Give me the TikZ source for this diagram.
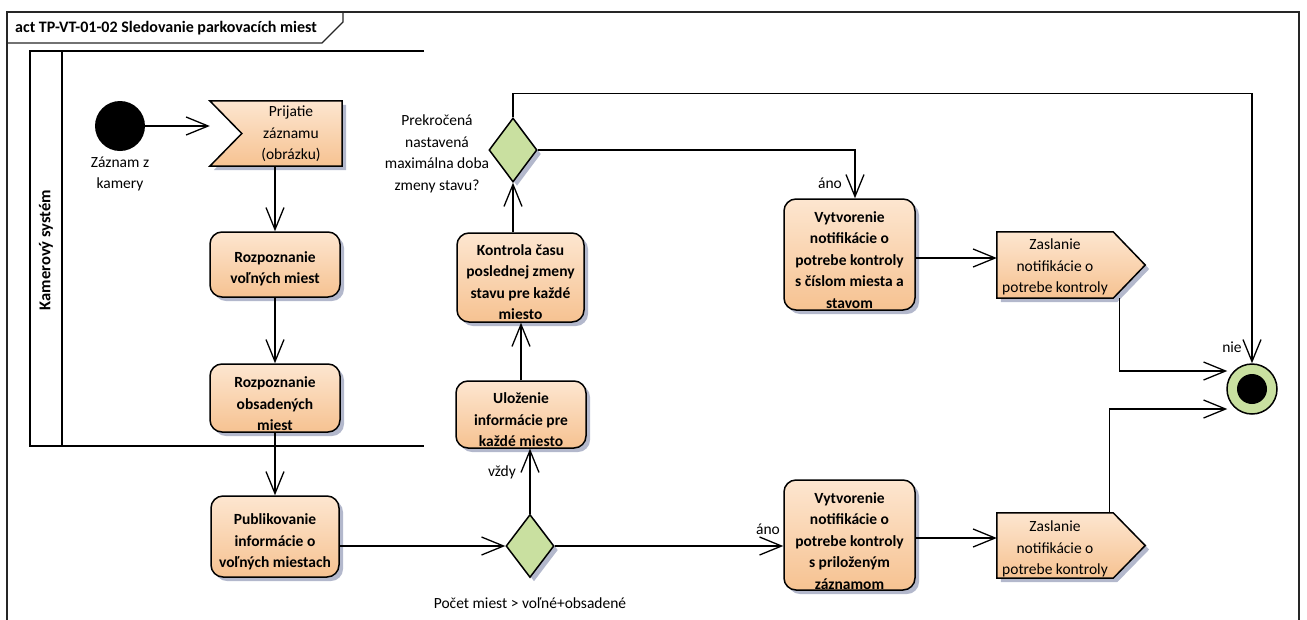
\documentclass[tikz,border=0pt]{standalone}
\usepackage{fontspec}
\setmainfont{Carlito}
\usetikzlibrary{arrows.meta,shapes.geometric,shadows,calc}

\definecolor{actTop}{HTML}{FDE6D0}
\definecolor{actBot}{HTML}{F6C291}
\definecolor{decFill}{HTML}{C9E0A0}
\definecolor{shadowc}{HTML}{B3B8CC}

\tikzset{
  shadeact/.style={top color=actTop, bottom color=actBot, draw=black, line width=1.5pt,
    drop shadow={shadow xshift=4pt, shadow yshift=-4pt, fill=shadowc, opacity=1}},
  action/.style={shape=rectangle, rounded corners=12pt, shadeact, inner sep=0pt},
  holder/.style={shape=rectangle, draw=none, inner sep=0pt},
  boxtext/.style={align=center, inner sep=0pt, font=\bfseries\fontsize{15.5}{21.5}\selectfont},
  plaintext/.style={align=center, inner sep=0pt, font=\fontsize{15.5}{21.5}\selectfont},
  decision/.style={diamond, inner sep=0pt, fill=decFill, draw=black, line width=1.5pt,
    drop shadow={shadow xshift=4pt, shadow yshift=-4pt, fill=shadowc, opacity=1}},
  flow/.style={line width=1.3pt, -{Straight Barb[length=22pt,width=18pt,line width=1.3pt]}},
  frameline/.style={line width=1.2pt, draw=black!85},
  laneline/.style={line width=1.8pt, draw=black},
}

\begin{document}
\begin{tikzpicture}[x=1pt,y=-1pt]
\useasboundingbox (0,0) rectangle (1307,619);

% diagram frame and its name tab
\draw[frameline] (7,625) -- (7,12) -- (1299,12) -- (1299,625);
\draw[frameline] (7,43) -- (322,43) -- (343,22) -- (343,12);
\node[anchor=west, inner sep=0pt, font=\bfseries\fontsize{16}{18}\selectfont] (title) at (15,28)
  {act TP-VT-01-02 Sledovanie parkovacích miest};

% swimlane of the camera system
\draw[laneline] (424,51) -- (30,51) -- (30,446) -- (424,446);
\draw[laneline] (62,51) -- (62,446);
\node[rotate=90, inner sep=0pt, font=\bfseries\fontsize{16.5}{18}\selectfont] (lane) at (46,250) {Kamerový systém};

% initial node
\node[circle, fill=black, minimum size=50pt, inner sep=0pt] (init) at (120,126) {};
\node[plaintext] (init-t) at (120,174) {Záznam z\\kamery};

% accept event
\node[holder, minimum width=132pt, minimum height=65pt] (acc) at (276,133.5) {};
\path[shadeact] (acc.north west) -- (acc.north east) -- (acc.south east) -- (acc.south west)
  -- ($(acc.west)+(32,0)$) -- cycle;
\node[plaintext] (acc-t) at (291,134) {Prijatie\\záznamu\\(obrázku)};

% actions, first column
\node[action, minimum width=130pt, minimum height=65pt] (rv) at (275,264.5) {};
\node[boxtext] (rv-t) at (275,269) {Rozpoznanie\\voľných miest};

\node[action, minimum width=130pt, minimum height=68pt] (ro) at (275,398) {};
\node[boxtext] (ro-t) at (275,404) {Rozpoznanie\\obsadených\\miest};

\node[action, minimum width=128pt, minimum height=81pt] (pub) at (275,536.5) {};
\node[boxtext] (pub-t) at (275,542) {Publikovanie\\informácie o\\voľných miestach};

% decisions
\node[decision, minimum width=48pt, minimum height=63pt] (dec1) at (530,546) {};
\node[plaintext] (dec1-t) at (530,603) {Počet miest > voľné+obsadené};

\node[decision, minimum width=48pt, minimum height=64pt] (dec2) at (513,150) {};
\node[plaintext] (dec2-t) at (437,154) {Prekročená\\nastavená\\maximálna doba\\zmeny stavu?};

% actions, second column
\node[action, minimum width=130pt, minimum height=67pt] (ul) at (521,414.5) {};
\node[boxtext] (ul-t) at (521,420) {Uloženie\\informácie pre\\každé miesto};

\node[action, minimum width=127pt, minimum height=89pt] (ko) at (520.5,277.5) {};
\node[boxtext] (ko-t) at (520.5,282) {Kontrola času\\poslednej zmeny\\stavu pre každé\\miesto};

% notification actions
\node[action, minimum width=131pt, minimum height=111pt] (vy1) at (849.5,254.5) {};
\node[boxtext] (vy1-t) at (849.5,260) {Vytvorenie\\notifikácie o\\potrebe kontroly\\s číslom miesta a\\stavom};

\node[action, minimum width=131pt, minimum height=110pt] (vy2) at (849.5,535) {};
\node[boxtext] (vy2-t) at (849.5,541) {Vytvorenie\\notifikácie o\\potrebe kontroly\\s priloženým\\záznamom};

% send signal actions
\node[holder, minimum width=148pt, minimum height=66pt] (s1) at (1071,265) {};
\path[shadeact] (s1.north west) -- ($(s1.north east)+(-32,0)$) -- (s1.east)
  -- ($(s1.south east)+(-32,0)$) -- (s1.south west) -- cycle;
\node[plaintext] (s1-t) at (1055,267) {Zaslanie\\notifikácie o\\potrebe kontroly};

\node[holder, minimum width=148pt, minimum height=65pt] (s2) at (1071,545.5) {};
\path[shadeact] (s2.north west) -- ($(s2.north east)+(-32,0)$) -- (s2.east)
  -- ($(s2.south east)+(-32,0)$) -- (s2.south west) -- cycle;
\node[plaintext] (s2-t) at (1055,549) {Zaslanie\\notifikácie o\\potrebe kontroly};

% activity final
\node[circle, draw=black, line width=1.5pt, fill=decFill, minimum size=50pt, inner sep=0pt] (fin) at (1252,389) {};
\node[circle, fill=black, minimum size=30pt, inner sep=0pt] (fin-c) at (fin) {};

% connector end points
\coordinate (v1o) at ($(vy1.east)+(0,3.5)$);
\coordinate (v2o) at ($(vy2.east)+(0,3)$);
\coordinate (s1o) at ($(s1.south east)+(-26,0)$);
\coordinate (s2o) at ($(s2.north east)+(-36,0)$);
\coordinate (fin1) at ($(fin.west)+(1,-18)$);
\coordinate (fin2) at ($(fin.west)+(1,20)$);
\coordinate (vy1in) at ($(vy1.north)+(5.5,0)$);

% control flows
\draw[flow] (init.east) -- (init.east -| acc.west);
\draw[flow] (rv.north |- acc.south) -- (rv.north);
\draw[flow] (rv.south) -- (ro.north);
\draw[flow] (ro.south) -- (pub.north);
\draw[flow] (pub.east |- dec1.west) -- (dec1.west);
\draw[flow] (dec1.north) -- (dec1.north |- ul.south);
\draw[flow] (ul.north) -- (ul.north |- ko.south);
\draw[flow] (ko.north -| dec2.south) -- (dec2.south);
\draw[flow] (dec2.east) -| (vy1in);
\draw[flow] (dec2.north) -- ++(0,-24) -| (fin.north);
\draw[flow] (v1o) -- (v1o -| s1.west);
\draw[flow] (s1o) |- (fin1);
\draw[flow] (dec1.east) -- (dec1.east -| vy2.west);
\draw[flow] (v2o) -- (v2o -| s2.west);
\draw[flow] (s2o) |- (fin2);

% guards
\node[plaintext] (g-vzdy) at (502,472) {vždy};
\node[plaintext] (g-ano1) at (830,183) {áno};
\node[plaintext] (g-nie) at (1232,347) {nie};
\node[plaintext] (g-ano2) at (768,529) {áno};
\end{tikzpicture}
\end{document}
